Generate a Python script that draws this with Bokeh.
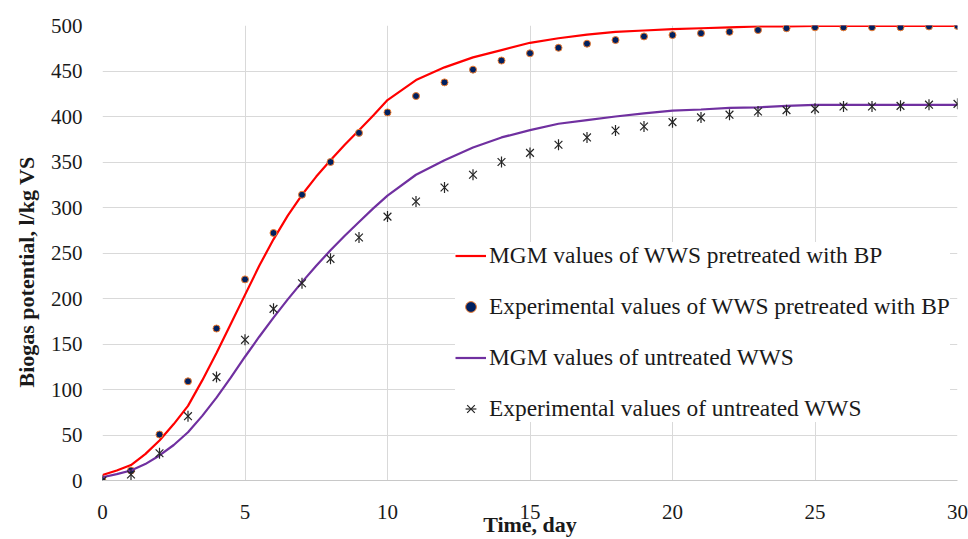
import math
from bokeh.plotting import figure
from bokeh.models import (Range1d, FixedTicker, Legend, LegendItem, Title,
                          ColumnDataSource)
from bokeh.embed import file_html
from bokeh.resources import INLINE

# ---- data ----
# experimental points (one per day)
days = list(range(0, 31))
exp_bp = [0, 11, 50.5, 109, 167, 221, 272, 314, 350, 382, 404.5, 422.5,
          437.5, 451.5, 461.5, 469.5, 475.5, 480, 484, 488, 489.5, 491.5,
          493, 495, 497, 498, 498, 498, 498, 499, 499.5]
exp_un = [0, 6.6, 30, 70.7, 113.6, 154.6, 188.6, 216.8, 243.6, 267, 290,
          306.6, 322, 336, 350, 360, 369, 377, 384.6, 389, 393.8, 399, 402,
          405.5, 407, 408.4, 411, 411, 411.7, 413, 413.9]

# model (MGM) curves, read every half day up to day 10, then daily
model_days = [0, 0.5, 1, 1.5, 2, 2.5, 3, 3.5, 4, 4.5, 5, 5.5, 6, 6.5, 7, 7.5,
              8, 8.5, 9, 9.5, 10, 11, 12, 13, 14, 15, 16, 17, 18, 19, 20,
              21, 22, 23, 24, 25, 26, 27, 28, 29, 30]
mgm_bp = [6, 11, 17, 29, 44, 62, 82, 110, 140, 172, 204, 236, 265, 291, 314,
          334, 352, 369, 385, 401, 418,
          440, 454, 465, 473, 481, 486, 490, 493, 494.5, 496, 497, 498, 499,
          499, 499.5, 499.5, 499.5, 499.5, 499.5, 499.5]
mgm_un = [3.6, 7, 11, 18, 27.5, 39, 53, 71, 91, 113, 136, 158, 179, 199, 218,
          236, 253, 269, 284, 299, 313,
          336, 352, 366, 377, 385, 392, 396, 400, 403.5, 406.5, 407.7, 409.5,
          410, 411.7, 412.8, 412.8, 412.8, 412.8, 412.8, 412.8]

x_ticks = [0, 5, 10, 15, 20, 25, 30]
y_ticks = [0, 50, 100, 150, 200, 250, 300, 350, 400, 450, 500]

labels = ["MGM values of WWS pretreated with BP",
          "Experimental values of WWS pretreated with BP",
          "MGM values of untreated WWS",
          "Experimental values of untreated WWS"]
x_title = "Time, day"
y_title = "Biogas potential, l/kg VS"

src_exp = ColumnDataSource(dict(day=days, exp_bp=exp_bp, exp_un=exp_un))
src_mod = ColumnDataSource(dict(day=model_days, mgm_bp=mgm_bp, mgm_un=mgm_un))

SERIF = "Liberation Serif"
TXT = "#1a1a1a"

p = figure(width=968, height=539, output_backend="svg", toolbar_location=None,
           x_range=Range1d(0, 30), y_range=Range1d(0, 500),
           min_border_left=102, min_border_right=11, min_border_top=25,
           min_border_bottom=59)
p.outline_line_color = None
p.background_fill_color = "white"

for ax in (p.xaxis[0], p.yaxis[0]):
    ax.major_tick_in = 0
    ax.major_tick_out = 0
    ax.minor_tick_in = 0
    ax.minor_tick_out = 0
    ax.major_label_text_font = SERIF
    ax.major_label_text_font_size = "21px"
    ax.major_label_text_color = TXT
p.xaxis.ticker = FixedTicker(ticks=x_ticks)
p.yaxis.ticker = FixedTicker(ticks=y_ticks)
p.xaxis.axis_line_color = "#c8c8c8"
p.yaxis.axis_line_color = None
p.xaxis.major_label_standoff = 24
p.yaxis.major_label_standoff = 20

p.xaxis.axis_label = x_title
p.xaxis.axis_label_standoff = -10
p.xaxis.axis_label_text_font = SERIF
p.xaxis.axis_label_text_font_style = "bold"
p.xaxis.axis_label_text_font_size = "22px"
p.xaxis.axis_label_text_color = TXT

p.xgrid.grid_line_color = "#d9d9d9"
p.ygrid.grid_line_color = "#d9d9d9"

r1 = p.line("day", "mgm_bp", source=src_mod, line_color="#ff0000",
            line_width=2.2)
r2 = p.scatter("day", "exp_bp", source=src_exp, marker="circle", size=7,
               fill_color="#002060", line_color="#ed7d31", line_width=1)
r3 = p.line("day", "mgm_un", source=src_mod, line_color="#7030a0",
            line_width=2.2)
r4a = p.scatter("day", "exp_un", source=src_exp, marker="x", size=11,
                line_color="#262626", line_width=1.2)
r4b = p.scatter("day", "exp_un", source=src_exp, marker="dash", size=11,
                angle=math.pi / 2, line_color="#262626", line_width=1.2)

legend = Legend(items=[LegendItem(label=labels[0], renderers=[r1]),
                       LegendItem(label=labels[1], renderers=[r2]),
                       LegendItem(label=labels[2], renderers=[r3]),
                       LegendItem(label=labels[3], renderers=[r4a, r4b])],
                location=(353, 58), padding=6, spacing=24, margin=0,
                glyph_width=31, glyph_height=27, label_height=27,
                label_standoff=3, label_text_font=SERIF,
                label_text_font_size="23.4px", label_text_color=TXT,
                background_fill_color="white", background_fill_alpha=1.0,
                border_line_color=None)
p.add_layout(legend)

yt = Title(text=y_title, align="left", offset=93, standoff=17,
           text_font=SERIF, text_font_style="bold", text_font_size="22px",
           text_color=TXT)
p.add_layout(yt, "left")

open("out.html", "w").write(file_html(p, INLINE))
